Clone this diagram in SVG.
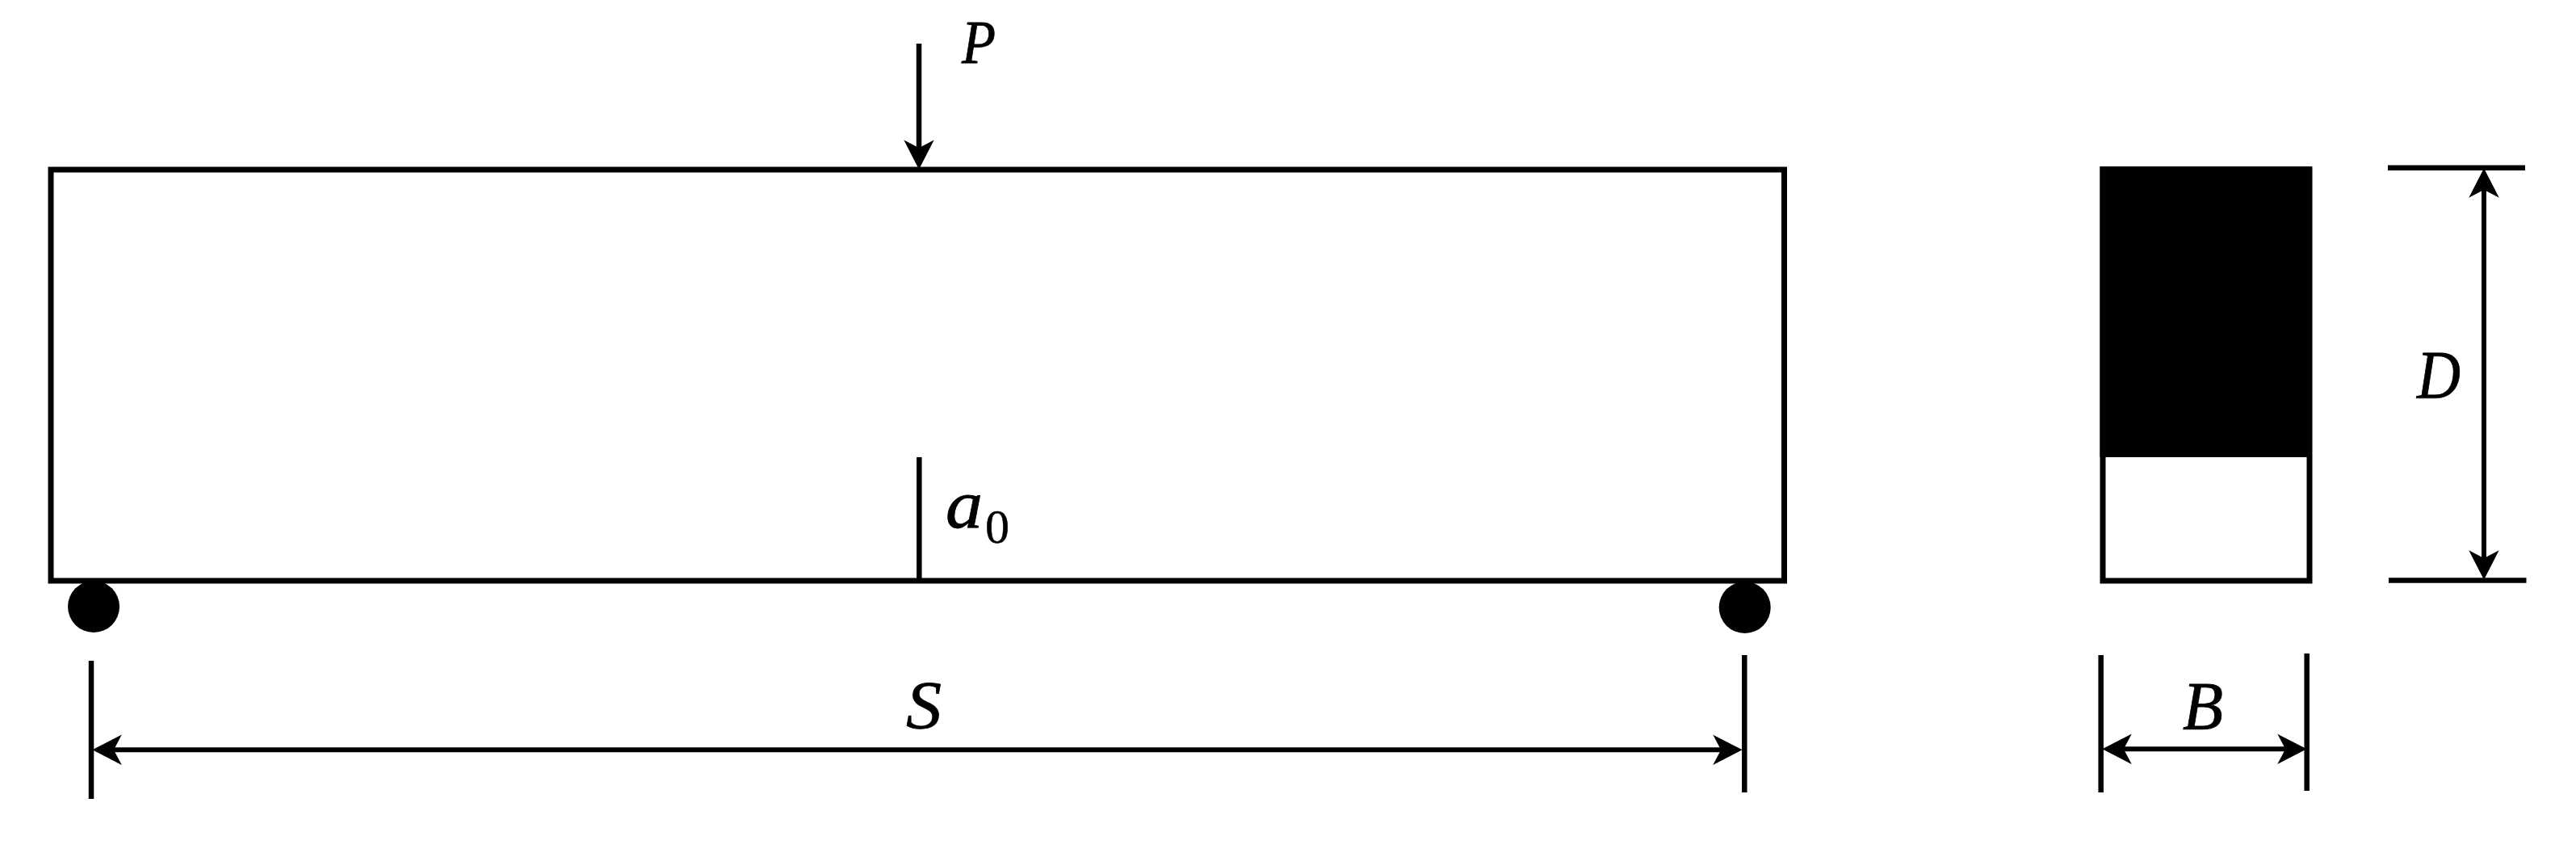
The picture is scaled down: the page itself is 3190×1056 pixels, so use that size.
<svg xmlns="http://www.w3.org/2000/svg" width="3190" height="1056" viewBox="0 0 3190 1056">
<style>
.l{fill:none;stroke:#000;stroke-width:6.5}
.d{fill:none;stroke:#000;stroke-width:6}
.t{font-family:"Liberation Serif",serif;font-style:italic;font-size:84px;fill:#000;stroke:#000;stroke-width:.8}
.s{font-family:"Liberation Serif",serif;font-size:60px;fill:#000;stroke:#000;stroke-width:.5}
</style>
<defs>
<marker id="ah" markerUnits="userSpaceOnUse" markerWidth="44" markerHeight="44" viewBox="0 0 44 44" refX="16" refY="22" orient="auto-start-reverse">
<path d="M4,5 L37,22 L4,39 L13,22 Z" fill="#000" stroke="#000" stroke-width="1.5"/>
</marker>
</defs>
<rect width="3190" height="1056" fill="#fff"/>
<g id="beam"><rect x="63" y="210" width="2146.5" height="509" fill="#fff" stroke="#000" stroke-width="7"/></g>
<g id="support-left"><circle cx="116" cy="751" r="32" fill="#000"/></g>
<g id="support-right"><circle cx="2160.7" cy="752" r="32" fill="#000"/></g>
<g id="section">
<rect x="2604" y="210" width="256" height="509" fill="#fff" stroke="#000" stroke-width="7"/>
<rect x="2600.5" y="206" width="262.5" height="360" fill="#000"/>
</g>
<g id="connectors">
<path class="l" d="M1138,54V187" marker-end="url(#ah)"/>
<path class="l" d="M1138.3,566V719"/>
<path class="l" d="M113,818V989"/>
<path class="l" d="M2160.3,811V981"/>
<path class="d" d="M137,928.3H2135" marker-start="url(#ah)" marker-end="url(#ah)"/>
<path class="l" d="M2957,207.7H3127"/>
<path class="l" d="M2958,718.5H3128.5"/>
<path class="d" d="M3076,231V695" marker-start="url(#ah)" marker-end="url(#ah)"/>
<path class="l" d="M2601.7,811V981"/>
<path class="l" d="M2856.7,809V979"/>
<path class="d" d="M2626,927.3H2834" marker-start="url(#ah)" marker-end="url(#ah)"/>
</g>
<g id="labels">
<text class="t" x="1191" y="78" style="font-size:76px" textLength="42" lengthAdjust="spacingAndGlyphs">P</text>
<text class="t" x="1171" y="653" textLength="46" lengthAdjust="spacingAndGlyphs">a</text>
<text class="s" x="1220" y="672">0</text>
<text class="t" x="1122" y="902" textLength="44" lengthAdjust="spacingAndGlyphs">S</text>
<text class="t" x="2703" y="903" textLength="50" lengthAdjust="spacingAndGlyphs">B</text>
<text class="t" x="2993" y="493" textLength="54" lengthAdjust="spacingAndGlyphs">D</text>
</g>
</svg>
